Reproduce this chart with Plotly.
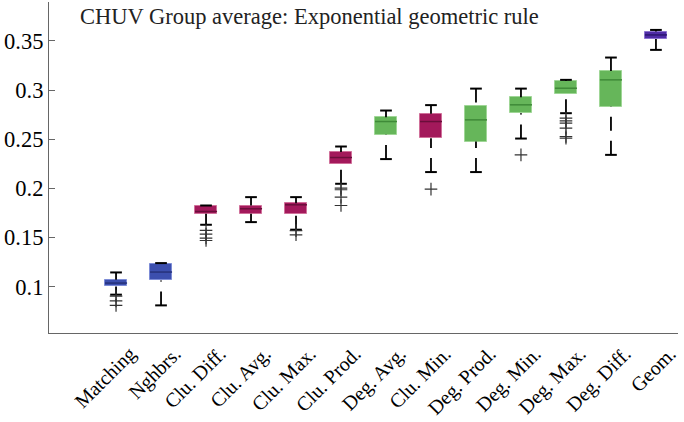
import plotly.graph_objects as go

categories = ["Matching", "Nghbrs.", "Clu. Diff.", "Clu. Avg.", "Clu. Max.", "Clu. Prod.",
              "Deg. Avg.", "Clu. Min.", "Deg. Prod.", "Deg. Min.", "Deg. Max.", "Deg. Diff.", "Geom."]
groups = ["match", "match", "clu", "clu", "clu", "clu", "deg", "clu", "deg", "deg", "deg", "deg", "geom"]
lower = [0.0919, 0.0810, 0.1630, 0.1657, 0.1580, 0.2047, 0.2298, 0.2166, 0.2166, 0.2507, 0.2765, 0.2341, 0.3409]
q1 = [0.1003, 0.1064, 0.1742, 0.1742, 0.1742, 0.2247, 0.2545, 0.2511, 0.2477, 0.2765, 0.2958, 0.2833, 0.3520]
median = [0.1037, 0.1149, 0.1765, 0.1793, 0.1833, 0.2314, 0.2680, 0.2680, 0.2697, 0.2850, 0.3019, 0.3104, 0.3561]
q3 = [0.1070, 0.1234, 0.1826, 0.1826, 0.1850, 0.2369, 0.2724, 0.2758, 0.2843, 0.2928, 0.3093, 0.3195, 0.3595]
upper = [0.1145, 0.1240, 0.1826, 0.1911, 0.1911, 0.2426, 0.2792, 0.2847, 0.3015, 0.3015, 0.3104, 0.3331, 0.3612]
outliers = [
    [0.0905, 0.0855, 0.0810],
    [],
    [0.1572, 0.1535, 0.1495, 0.1470],
    [],
    [0.1570, 0.1528],
    [0.2003, 0.1986, 0.1911, 0.1826],
    [],
    [0.1993],
    [],
    [0.2341],
    [0.2714, 0.2687, 0.2664, 0.2613, 0.2528, 0.2511],
    [],
    [],
]
y_ticks = [0.1, 0.15, 0.2, 0.25, 0.3, 0.35]
y_tick_text = ["0.1", "0.15", "0.2", "0.25", "0.3", "0.35"]
title_text = "CHUV Group average: Exponential geometric rule"

fill = {"match": "#3c4fae", "clu": "#a3195b", "deg": "#66b65a", "geom": "#4f2ca6"}
edge = {"match": "#7d8cd6", "clu": "#d0709a", "deg": "#9fd696", "geom": "#8d74d0"}
medc = {"match": "#26327a", "clu": "#6a0e3a", "deg": "#3f8a38", "geom": "#2c1770"}

BOX_W = 0.49
CAP_W = 0.26
FONT = "Liberation Serif, Times New Roman, serif"

xs = list(range(len(categories)))
fig = go.Figure()

# whiskers (dashed, drawn from cap toward box)
wx, wy = [], []
for i in xs:
    wx += [i, i, None, i, i, None]
    wy += [upper[i], q3[i], None, lower[i], q1[i], None]
fig.add_trace(go.Scatter(x=wx, y=wy, mode="lines",
                         line=dict(color="black", width=1.8, dash="14px,10px"),
                         hoverinfo="skip", showlegend=False))

# caps
cx, cy = [], []
for i in xs:
    cx += [i - CAP_W / 2, i + CAP_W / 2, None, i - CAP_W / 2, i + CAP_W / 2, None]
    cy += [upper[i], upper[i], None, lower[i], lower[i], None]
fig.add_trace(go.Scatter(x=cx, y=cy, mode="lines", line=dict(color="black", width=2),
                         hoverinfo="skip", showlegend=False))

# boxes
fig.add_trace(go.Bar(x=xs, base=q1, y=[q3[i] - q1[i] for i in xs], width=BOX_W,
                     marker=dict(color=[fill[g] for g in groups],
                                 line=dict(color=[edge[g] for g in groups], width=1)),
                     hoverinfo="skip", showlegend=False))

# medians
for i in xs:
    fig.add_trace(go.Scatter(x=[i - BOX_W / 2, i + BOX_W / 2], y=[median[i], median[i]],
                             mode="lines", line=dict(color=medc[groups[i]], width=1.5),
                             hoverinfo="skip", showlegend=False))

# outliers
ox, oy = [], []
for i in xs:
    for v in outliers[i]:
        ox.append(i)
        oy.append(v)
fig.add_trace(go.Scatter(x=ox, y=oy, mode="markers",
                         marker=dict(symbol="cross-thin-open", size=9, color="#333333",
                                     line=dict(color="#333333", width=1.2)),
                         hoverinfo="skip", showlegend=False))

fig.add_annotation(text=title_text, xref="paper", yref="paper", x=0.046, y=0.955,
                   xanchor="left", yanchor="middle", showarrow=False,
                   font=dict(family=FONT, size=22.5, color="#222222"))

fig.update_layout(
    width=684, height=422,
    margin=dict(l=49, r=6, t=2, b=89, autoexpand=False),
    plot_bgcolor="white", paper_bgcolor="white",
    bargap=0,
    xaxis=dict(range=[-1.49, 12.49], tickmode="array", tickvals=xs, ticktext=categories,
               tickangle=-45, showline=True, linecolor="#666666", linewidth=1.2,
               showgrid=False, zeroline=False, ticks="", automargin=False,
               ticklabelshift=14, ticklabelstandoff=0,
               tickfont=dict(family=FONT, size=20, color="black")),
    yaxis=dict(range=[0.0529, 0.3896], tickmode="array", tickvals=y_ticks, ticktext=y_tick_text,
               showline=True, linecolor="#666666", linewidth=1.2, showgrid=False, zeroline=False,
               ticks="inside", ticklen=6, tickcolor="#666666", automargin=False,
               tickfont=dict(family=FONT, size=22.5, color="black")),
)

fig.write_html("out.html", config={"displayModeBar": False},
               post_script="document.body.style.margin='0';")
